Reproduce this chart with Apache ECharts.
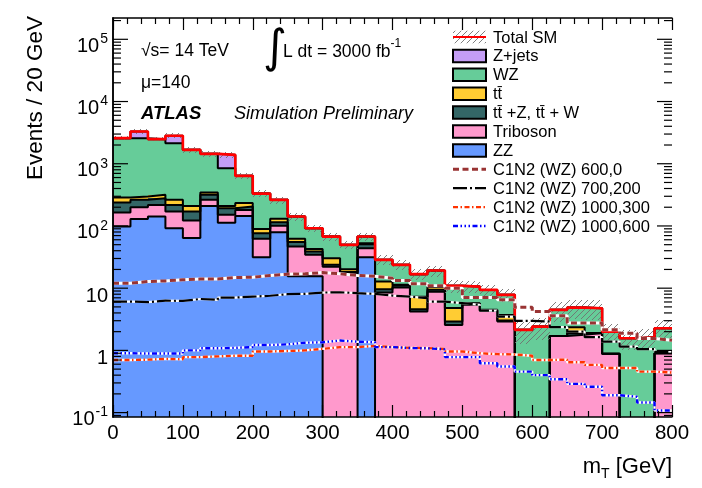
<!DOCTYPE html>
<html>
<head>
<meta charset="utf-8">
<script src="https://cdn.jsdelivr.net/npm/echarts@6/dist/echarts.min.js"></script>
<style>
  html, body { margin: 0; padding: 0; background: #ffffff; }
  #chart { width: 702px; height: 488px; }
</style>
</head>
<body>
<div id="chart"></div>
<script>
// ---- binning: m_T histogram, 25 GeV bins from 0 to 800 GeV ----
const binLow = [0, 25, 50, 75, 100, 125, 150, 175, 200, 225, 250, 275, 300, 325, 350, 375,
                400, 425, 450, 475, 500, 525, 550, 575, 600, 625, 650, 675, 700, 725, 750, 775];
const binWidth = 25;

// ---- background processes (events per bin), stacked bottom to top ----
const zzEvents = [98, 129, 142, 92, 64, 210, 113, 145, 31.5, 79.5, 15.6, 15.6, 0, 0, 31.5, 0,
                  0, 0, 0, 0, 0, 0, 0, 0, 0, 0, 0, 0, 0, 0, 0, 0];
const tribosonEvents = [66, 71, 76, 79, 58, 53, 38, 36, 30.5, 21.5, 31.1, 18.7, 22, 17.4, 12.5, 8.5,
                        10.3, 4.2, 8.8, 2.57, 5.4, 4.3, 2.92, 0, 0, 1.71, 1.78, 1.9, 0.88, 0, 0, 0.9];
const ttvEvents = [74, 63, 62, 47, 49, 53, 42, 24, 14.6, 14, 8.3, 4.4, 1.7, 0.8, 6.9, 1.1,
                   0.7, 0.4, 0.6, 0.33, 0.2, 0.1, 0.09, 0, 0, 0, 0.1, 0, 0, 0, 0, 0];
const ttbarEvents = [48, 34, 36, 45, 39, 28, 17, 28, 12.4, 15, 7, 4.1, 6.7, 2, 2, 3.2,
                     0.3, 2.7, 1.0, 1.9, 0.15, 0.08, 0.7, 0, 0, 0, 0.47, 0, 0, 0, 0, 0];
const wzEvents = [2291, 2280, 2169, 1880, 1462, 1098, 639, 406, 242, 133, 80, 49, 37, 29.5, 14.7, 15.7,
                  12.4, 9.5, 8.8, 6.1, 4.85, 4.9, 4.1, 2.14, 2.41, 2.77, 2.52, 2.87, 1.12, 1.57, 1.63, 1.37];
const zjetsEvents = [0, 719, 0, 667, 0, 0, 541, 0, 0, 0, 0, 0, 0, 0, 0, 0,
                     0, 0, 0, 0, 0, 0, 0, 0, 0, 0, 0, 0, 0, 0, 0, 0];
// relative uncertainty on the total SM prediction
const totalRelUnc = [0.08, 0.09, 0.08, 0.09, 0.10, 0.10, 0.10, 0.12, 0.13, 0.13, 0.14, 0.14, 0.15, 0.15, 0.16, 0.18,
                     0.18, 0.20, 0.20, 0.22, 0.22, 0.22, 0.24, 0.40, 0.40, 0.35, 0.35, 0.35, 0.35, 0.35, 0.35, 0.35];

// ---- signal benchmark points ----
const sig600_0 = [12.0, 12.8, 13.1, 13.6, 14.0, 14.0, 14.8, 15.0, 16.0, 16.8, 17.0, 17.8, 17.0, 16.0, 15.5, 14.5,
                  13.3, 11.8, 10.9, 10.0, 7.06, 7.06, 6.5, 4.95, 4.2, 3.6, 2.75, 2.75, 2.14, 1.89, 1.55, 1.45];
const sig700_200 = [6.1, 5.96, 6.3, 6.25, 6.7, 6.5, 7.06, 7.3, 7.55, 8.0, 8.1, 8.5, 8.6, 8.3, 8.1, 7.6,
                    7.3, 6.9, 6.1, 5.74, 5.39, 4.36, 3.49, 2.98, 2.92, 2.36, 2.0, 1.63, 1.38, 1.15, 1.05, 0.95];
const sig1000_300 = [0.70, 0.71, 0.73, 0.72, 0.78, 0.80, 0.82, 0.82, 0.96, 0.98, 1.0, 1.06, 1.13, 1.13, 1.18, 1.13,
                     1.10, 1.09, 1.05, 0.96, 0.90, 0.87, 0.86, 0.82, 0.70, 0.71, 0.645, 0.585, 0.52, 0.52, 0.456, 0.44];
const sig1000_600 = [0.90, 0.89, 0.89, 0.89, 1.0, 1.08, 1.10, 1.13, 1.22, 1.25, 1.33, 1.35, 1.44, 1.38, 1.35, 1.13,
                     1.09, 1.08, 1.04, 0.78, 0.78, 0.62, 0.55, 0.456, 0.40, 0.344, 0.29, 0.26, 0.19, 0.18, 0.145, 0.108];

// ---- axis ranges and tick labels ----
const X_MIN = 0, X_MAX = 800, X_STEP = 100;
const Y_MIN = 0.085, Y_MAX = 2.2e5;
const yDecades = [-1, 0, 1, 2, 3, 4, 5];

const FONT = '"Liberation Sans", Arial, Helvetica, sans-serif';

// processes from the bottom of the stack upwards
const backgrounds = [
  { name: 'ZZ',               values: zzEvents,       color: '#6699ff' },
  { name: 'Triboson',         values: tribosonEvents, color: '#ff99cc' },
  { name: 'tt\u0304 +Z, tt\u0304 + W', values: ttvEvents, color: '#336666' },
  { name: 'tt\u0304',         values: ttbarEvents,    color: '#ffcc33' },
  { name: 'WZ',               values: wzEvents,       color: '#66cc99' },
  { name: 'Z+jets',           values: zjetsEvents,    color: '#c49df5' }
];

const signals = [
  { name: 'C1N2 (WZ) 600,0',    values: sig600_0,    color: '#993333', width: 3,   dash: [6, 3.5] },
  { name: 'C1N2 (WZ) 700,200',  values: sig700_200,  color: '#000000', width: 2.2, dash: [14, 3, 2, 3] },
  { name: 'C1N2 (WZ) 1000,300', values: sig1000_300, color: '#ff3300', width: 2.4, dash: [5, 2.5, 1.5, 2.5] },
  { name: 'C1N2 (WZ) 1000,600', values: sig1000_600, color: '#0000ff', width: 2.4, dash: [5, 2.5, 1.5, 2.5, 1.5, 2.5, 1.5, 2.5] }
];

// cumulative stack levels
const cumulative = [];
backgrounds.forEach((b, k) => {
  cumulative.push(b.values.map((v, i) => v + (k > 0 ? cumulative[k - 1][i] : 0)));
});
const totalSM = cumulative[cumulative.length - 1];

// histogram outline: horizontal segment per bin joined by vertical steps
function stepPoints(vals) {
  const pts = [];
  vals.forEach((v, i) => {
    const y = v > 0 ? v : Y_MIN * 1e-3;
    pts.push([binLow[i], y], [binLow[i] + binWidth, y]);
  });
  return pts;
}

// diagonal hatch used for the uncertainty band
function makeHatch() {
  const c = document.createElement('canvas');
  c.width = 6; c.height = 6;
  const g = c.getContext('2d');
  g.strokeStyle = '#707070';
  g.lineWidth = 0.9;
  g.beginPath();
  g.moveTo(0, 6); g.lineTo(6, 0);
  g.moveTo(-1, 1); g.lineTo(1, -1);
  g.moveTo(5, 7); g.lineTo(7, 5);
  g.stroke();
  return c;
}
const hatchCanvas = makeHatch();

// rectangle between two data corners, snapped to whole pixels so neighbouring bins join cleanly
function rectItem(api, x0, x1, lo, hi, style) {
  const p0 = api.coord([x0, hi]);
  const p1 = api.coord([x1, lo]);
  const left = Math.round(p0[0]), right = Math.round(p1[0]);
  const top = Math.round(p0[1]), bottom = Math.round(p1[1]);
  return { type: 'rect', shape: { x: left, y: top, width: right - left, height: bottom - top }, style: style };
}

const series = [];

// filled stack
backgrounds.forEach((b, k) => {
  const data = binLow.map((lo, i) => [lo, lo + binWidth,
    k > 0 ? cumulative[k - 1][i] : Y_MIN, cumulative[k][i]]);
  series.push({
    type: 'custom', name: b.name, silent: true, clip: true, z: 1,
    encode: { x: [0, 1], y: [2, 3] },
    data: data,
    renderItem: function (params, api) {
      const lo = Math.max(api.value(2), Y_MIN), hi = api.value(3);
      if (!(hi > lo)) return null;
      return rectItem(api, api.value(0), api.value(1), lo, hi, { fill: b.color, stroke: null });
    }
  });
});

// black outlines of each stack level
cumulative.forEach((lvl) => {
  series.push({
    type: 'line', silent: true, z: 2, showSymbol: false, animation: false,
    data: stepPoints(lvl),
    lineStyle: { color: '#000000', width: 2 }
  });
});

// hatched uncertainty band on the total
series.push({
  type: 'custom', silent: true, clip: true, z: 3,
  encode: { x: [0, 1], y: [2, 3] },
  data: binLow.map((lo, i) => [lo, lo + binWidth, totalSM[i] * (1 - totalRelUnc[i]), totalSM[i] * (1 + totalRelUnc[i])]),
  renderItem: function (params, api) {
    return rectItem(api, api.value(0), api.value(1), Math.max(api.value(2), Y_MIN), api.value(3),
      { fill: { image: hatchCanvas, repeat: 'repeat' } });
  }
});

// total SM
series.push({
  type: 'line', name: 'Total SM', silent: true, z: 4, showSymbol: false,
  data: stepPoints(totalSM),
  lineStyle: { color: '#ff0000', width: 2.6 }
});

// signal curves: white underlay, coloured dashes on top
signals.forEach((s) => {
  series.push({
    type: 'line', silent: true, z: 5, showSymbol: false,
    data: stepPoints(s.values),
    lineStyle: { color: '#ffffff', width: s.width }
  });
  series.push({
    type: 'line', name: s.name, silent: true, z: 6, showSymbol: false,
    data: stepPoints(s.values),
    lineStyle: { color: s.color, width: s.width, type: s.dash, cap: 'butt' }
  });
});

// log-axis ticks on both frame sides (decades long, 2..9 short)
const yTickData = [];
for (let d = yDecades[0] - 1; d <= yDecades[yDecades.length - 1]; d++) {
  for (let m = 1; m <= 9; m++) {
    const v = m * Math.pow(10, d);
    if (v >= Y_MIN && v <= Y_MAX) yTickData.push([X_MIN, v, m === 1 ? 1 : 0]);
  }
}
series.push({
  type: 'custom', silent: true, clip: false, z: 10,
  encode: { x: 0, y: 1 },
  data: yTickData,
  renderItem: function (params, api) {
    const v = api.value(1);
    const len = api.value(2) ? 15 : 8;
    const l = api.coord([X_MIN, v]);
    const r = api.coord([X_MAX, v]);
    const st = { stroke: '#000000', lineWidth: 1.2 };
    return {
      type: 'group',
      children: [
        { type: 'line', shape: { x1: l[0], y1: l[1], x2: l[0] + len, y2: l[1] }, style: st },
        { type: 'line', shape: { x1: r[0], y1: r[1], x2: r[0] - len, y2: r[1] }, style: st }
      ]
    };
  }
});

// ---- legend drawn as graphics ----
const legendItems = [{ label: 'Total SM', kind: 'total' }]
  .concat(backgrounds.slice().reverse().map(b => ({ label: b.name, kind: 'fill', color: b.color })))
  .concat(signals.map(s => ({ label: s.name, kind: 'line', color: s.color, width: s.width, dash: s.dash })));

const LEG_X = 453, LEG_Y = 37, LEG_DY = 18.9, BOX_W = 33, BOX_H = 12.5, TXT_X = 493;
const graphics = [];
legendItems.forEach((it, i) => {
  const cy = LEG_Y + i * LEG_DY;
  if (it.kind === 'total') {
    graphics.push({ type: 'rect', shape: { x: LEG_X, y: cy - BOX_H / 2, width: BOX_W, height: BOX_H },
      style: { fill: { image: hatchCanvas, repeat: 'repeat' } }, z: 20 });
    graphics.push({ type: 'line', shape: { x1: LEG_X, y1: cy, x2: LEG_X + BOX_W, y2: cy },
      style: { stroke: '#ff0000', lineWidth: 2.2 }, z: 21 });
  } else if (it.kind === 'fill') {
    graphics.push({ type: 'rect', shape: { x: LEG_X, y: cy - BOX_H / 2, width: BOX_W, height: BOX_H },
      style: { fill: it.color, stroke: '#000000', lineWidth: 2 }, z: 20 });
  } else {
    graphics.push({ type: 'line', shape: { x1: LEG_X, y1: cy, x2: LEG_X + BOX_W, y2: cy },
      style: { stroke: it.color, lineWidth: it.width, lineDash: it.dash, lineCap: 'butt' }, z: 20 });
  }
  graphics.push({ type: 'text', x: TXT_X, y: cy + 1, z: 21,
    style: { text: it.label, font: '16.5px ' + FONT, fill: '#000000', textAlign: 'left', textVerticalAlign: 'middle' } });
});

// annotations
graphics.push(
  { type: 'text', x: 141, y: 51, z: 20,
    style: { text: '\u221As= 14 TeV', font: '17.5px ' + FONT, fill: '#000', textVerticalAlign: 'middle' } },
  { type: 'text', x: 263, y: 50, z: 20,
    style: { text: '\u222B', font: '46px "DejaVu Sans", ' + FONT, fill: '#000', textVerticalAlign: 'middle' } },
  { type: 'text', x: 283, y: 47, z: 20,
    style: {
      text: '{t|L dt = 3000 fb}{s|-1}', fill: '#000', textVerticalAlign: 'middle',
      rich: {
        t: { fontSize: 17.5, fontFamily: FONT, lineHeight: 18, padding: [5, 0, 0, 0], verticalAlign: 'top' },
        s: { fontSize: 12, fontFamily: FONT, lineHeight: 12, verticalAlign: 'top' }
      }
    } },
  { type: 'text', x: 141, y: 83, z: 20,
    style: { text: '\u03BC=140', font: '17.5px ' + FONT, fill: '#000', textVerticalAlign: 'middle' } },
  { type: 'text', x: 141, y: 114, z: 20,
    style: { text: 'ATLAS', font: 'italic bold 18.5px ' + FONT, fill: '#000', textVerticalAlign: 'middle' } },
  { type: 'text', x: 234, y: 114, z: 20,
    style: { text: 'Simulation Preliminary', font: 'italic 18px ' + FONT, fill: '#000', textVerticalAlign: 'middle' } },
  // axis titles
  { type: 'text', x: 36, y: 98, rotation: Math.PI / 2, z: 20,
    style: { text: 'Events / 20 GeV', font: '22.5px ' + FONT, fill: '#000', textAlign: 'center', textVerticalAlign: 'middle' } },
  { type: 'text', x: 672, y: 467, z: 20,
    style: {
      text: '{a|m}{b|T}{a| [GeV]}', fill: '#000', textAlign: 'right', textVerticalAlign: 'middle',
      rich: {
        a: { fontSize: 22, fontFamily: FONT, lineHeight: 22, verticalAlign: 'top' },
        b: { fontSize: 14, fontFamily: FONT, lineHeight: 14, padding: [11, 0, 0, 0], verticalAlign: 'top' }
      }
    } }
);

function yLabel(v) {
  const lg = Math.log10(v);
  const e = Math.round(lg);
  if (Math.abs(lg - e) > 1e-6 || yDecades.indexOf(e) < 0) return '';
  if (e === 0) return '{p|1}';
  if (e === 1) return '{p|10}';
  return '{b|10}{s|' + e + '}';
}

const frameLine = { show: true, lineStyle: { color: '#000000', width: 1.5 } };

const option = {
  animation: false,
  backgroundColor: '#ffffff',
  grid: { left: 113, right: 30, top: 18, bottom: 71 },
  xAxis: [
    {
      type: 'value', min: X_MIN, max: X_MAX, interval: X_STEP, position: 'bottom', z: 10,
      axisLine: frameLine,
      axisTick: { show: true, inside: true, length: 12, lineStyle: { color: '#000', width: 1.2 } },
      minorTick: { show: true, splitNumber: 5, length: 6, lineStyle: { color: '#000', width: 1.2 } },
      splitLine: { show: false },
      axisLabel: { fontSize: 20.5, fontFamily: FONT, color: '#000', margin: 6 }
    },
    {
      type: 'value', min: X_MIN, max: X_MAX, interval: X_STEP, position: 'top', z: 10,
      axisLine: frameLine,
      axisTick: { show: true, inside: true, length: 12, lineStyle: { color: '#000', width: 1.2 } },
      minorTick: { show: true, splitNumber: 5, length: 6, lineStyle: { color: '#000', width: 1.2 } },
      splitLine: { show: false },
      axisLabel: { show: false }
    }
  ],
  yAxis: [
    {
      type: 'log', logBase: 10, min: Y_MIN, max: Y_MAX, position: 'left', z: 10,
      axisLine: frameLine,
      axisTick: { show: false },
      splitLine: { show: false },
      axisLabel: {
        margin: 5, color: '#000', formatter: yLabel,
        rich: {
          p: { fontSize: 20, fontFamily: FONT, lineHeight: 20, padding: [8, 0, 0, 0], verticalAlign: 'top' },
          b: { fontSize: 20, fontFamily: FONT, lineHeight: 20, padding: [7, 0, 0, 0], verticalAlign: 'top' },
          s: { fontSize: 14, fontFamily: FONT, lineHeight: 14, padding: [3, 0, 0, 1], verticalAlign: 'top' }
        }
      }
    },
    {
      type: 'log', logBase: 10, min: Y_MIN, max: Y_MAX, position: 'right', z: 10,
      axisLine: frameLine,
      axisTick: { show: false },
      splitLine: { show: false },
      axisLabel: { show: false }
    }
  ],
  series: series,
  graphic: graphics
};

const chart = echarts.init(document.getElementById('chart'), null, { renderer: 'canvas', width: 702, height: 488 });
chart.setOption(option);
</script>
</body>
</html>
